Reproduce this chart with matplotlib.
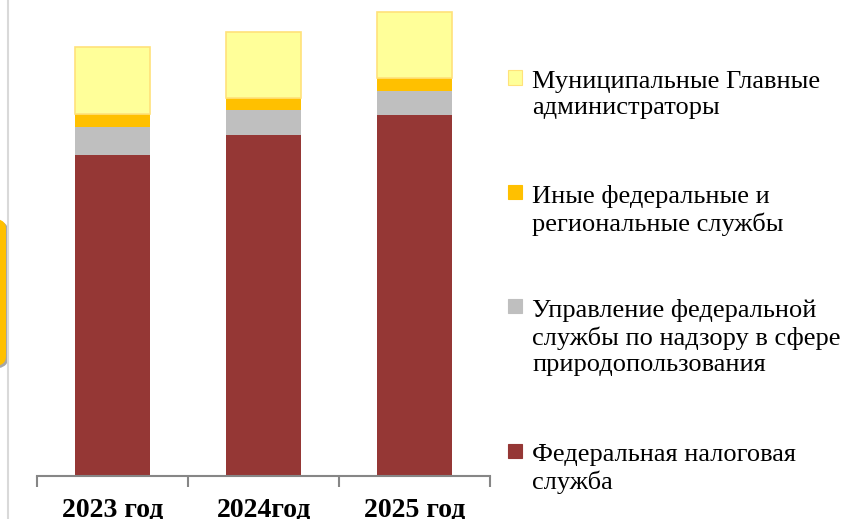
import matplotlib
matplotlib.use("Agg")
import matplotlib.pyplot as plt
from matplotlib.patches import Rectangle, FancyBboxPatch
from matplotlib.lines import Line2D

plt.rcParams['font.family'] = ['Liberation Serif', 'DejaVu Serif']

# categories and stacked series (bottom to top)
years = ['2023 год', '2024год', '2025 год']
series_names = [
    'Федеральная налоговая\nслужба',
    'Управление федеральной\nслужбы по надзору в сфере\nприродопользования',
    'Иные федеральные и\nрегиональные службы',
    'Муниципальные Главные\nадминистраторы',
]
fns = [321, 341, 361]
rpn = [28, 25, 24]
other = [13, 12, 13]
municipal = [67, 66, 66]

colors = ['#953735', '#bfbfbf', '#ffc000', '#ffff99']
edges = ['none', 'none', 'none', '#ffe27a']
values = [fns, rpn, other, municipal]

W, H = 846, 519
fig = plt.figure(figsize=(W / 100, H / 100), dpi=100)

# axes spans x 37..490 px, baseline at y=476 px
ax = fig.add_axes([37 / W, (H - 476) / H, 453 / W, 476 / H])
x = range(len(years))
bottom = [0, 0, 0]
for vals, c, ec in zip(values, colors, edges):
    ax.bar(x, vals, width=0.5, bottom=bottom, color=c,
           edgecolor=ec, linewidth=1.2 if ec != 'none' else 0)
    bottom = [b + v for b, v in zip(bottom, vals)]

ax.set_xlim(-0.5, 2.5)
ax.set_ylim(0, 476)
for s in ['top', 'right', 'left']:
    ax.spines[s].set_visible(False)
ax.spines['bottom'].set_color('#868686')
ax.spines['bottom'].set_linewidth(1.5)
ax.set_yticks([])
ax.set_xticks(list(x))
ax.set_xticklabels(years, fontsize=20, fontweight='bold')
ax.tick_params(axis='x', which='major', length=0, pad=16)
ax.set_xticks([-0.5, 0.5, 1.5, 2.5], minor=True)
ax.tick_params(axis='x', which='minor', length=8, width=1.5, color='#868686',
               direction='out')

# legend drawn by hand, top entry first; numbers are first-line baselines in px
to_px = lambda px, py: (px / W, (H - py) / H)
legend_rows = [(3, 89), (2, 203), (1, 317), (0, 462)]
for idx, base in legend_rows:
    sx, sy = to_px(508, base - 11.5 + 7)
    fig.patches.append(Rectangle((sx, sy), 14 / W, 14 / H,
                                 transform=fig.transFigure,
                                 facecolor=colors[idx],
                                 edgecolor=edges[idx] if edges[idx] != 'none' else colors[idx],
                                 linewidth=0.8))
    tx, ty = to_px(532, base - 18)
    fig.text(tx, ty, series_names[idx], fontsize=19, va='top',
             ha='left', linespacing=1.25)

# left edge: thin frame line and a rounded yellow shape
fig.add_artist(Line2D([7.5 / W, 7.5 / W], [0, 1], color='#d9d9d9', lw=1.5,
                      transform=fig.transFigure))
sx, sy = to_px(-30, 367)
fig.patches.append(FancyBboxPatch((sx + 2 / W, sy - 2 / H), 36 / W, 149 / H,
                                  boxstyle='round,pad=0,rounding_size=0.02',
                                  transform=fig.transFigure,
                                  facecolor='#a6a6a6', edgecolor='none'))
fig.patches.append(FancyBboxPatch((sx, sy), 36 / W, 149 / H,
                                  boxstyle='round,pad=0,rounding_size=0.02',
                                  transform=fig.transFigure,
                                  facecolor='#ffc000', edgecolor='none'))

fig.savefig('out.png', dpi=100)
